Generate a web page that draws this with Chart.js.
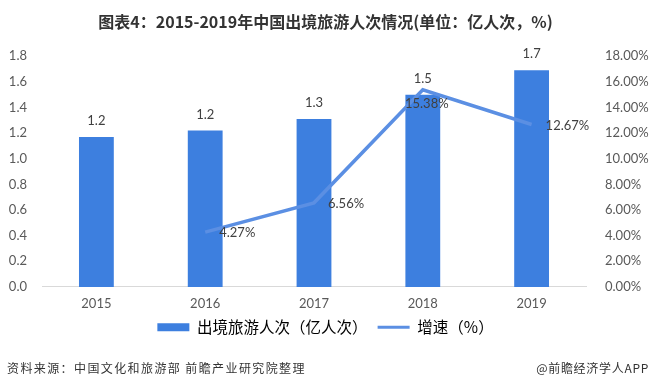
<!DOCTYPE html>
<html>
<head>
<meta charset="utf-8">
<script src="https://cdn.jsdelivr.net/npm/chart.js@4.4.0/dist/chart.umd.min.js"></script>
<style>
  html, body { margin: 0; padding: 0; background: #fff; }
  #wrap { width: 651px; height: 388px; position: relative; }
</style>
</head>
<body>
<div id="wrap"><canvas id="myChart"></canvas></div>
<script>
const years = ["2015", "2016", "2017", "2018", "2019"];
const travelers = [1.17, 1.22, 1.31, 1.5, 1.69];
const growth = [null, 4.27, 6.56, 15.38, 12.67];
const leftTicks = ["0.0", "0.2", "0.4", "0.6", "0.8", "1.0", "1.2", "1.4", "1.6", "1.8"];
const rightTicks = ["0.00%", "2.00%", "4.00%", "6.00%", "8.00%", "10.00%", "12.00%", "14.00%", "16.00%", "18.00%"];
// where each growth label sits relative to its point
const growthLabelPos = ["", "right", "right", "below", "right"];

const barColor = "#3d7fdf";
const lineColor = "#5b8fe3";
const font = "Lato, 'Noto Sans CJK SC', sans-serif";
const cjk = "'Noto Sans CJK SC', sans-serif";

const valueLabels = {
  id: "valueLabels",
  afterDatasetsDraw(chart) {
    const ctx = chart.ctx;
    ctx.save();
    ctx.font = "13px " + font;
    ctx.fillStyle = "#404040";
    ctx.textBaseline = "middle";
    ctx.textAlign = "center";
    chart.getDatasetMeta(0).data.forEach((bar, i) => {
      ctx.fillText(travelers[i].toFixed(1), bar.x, bar.y - 16);
    });
    chart.getDatasetMeta(1).data.forEach((pt, i) => {
      if (growth[i] == null) return;
      const txt = growth[i].toFixed(2) + "%";
      if (growthLabelPos[i] === "below") {
        ctx.textAlign = "center";
        ctx.fillText(txt, pt.x + 4, pt.y + 14);
      } else {
        ctx.textAlign = "left";
        ctx.fillText(txt, pt.x + 14, pt.y + 1);
      }
    });
    ctx.restore();
  },
};

const footer = {
  id: "footer",
  afterDraw(chart) {
    const ctx = chart.ctx;
    ctx.save();
    ctx.font = "12px " + cjk;
    ctx.fillStyle = "#333";
    ctx.textBaseline = "middle";
    ctx.textAlign = "left";
    ctx.letterSpacing = "1.4px";
    ctx.fillText("资料来源：中国文化和旅游部 前瞻产业研究院整理", 7, 368);
    ctx.textAlign = "right";
    ctx.letterSpacing = "0.7px";
    ctx.fillText("@前瞻经济学人APP", 649, 368);
    ctx.restore();
  },
};

new Chart("myChart", {
  data: {
    labels: years,
    datasets: [
      {
        type: "bar",
        label: "出境旅游人次（亿人次）",
        data: travelers,
        backgroundColor: barColor,
        barPercentage: 0.32,
        categoryPercentage: 1,
        yAxisID: "y",
        order: 2,
      },
      {
        type: "line",
        label: "增速（%）",
        data: growth,
        borderColor: lineColor,
        borderWidth: 3.5,
        pointRadius: 0,
        tension: 0,
        yAxisID: "y1",
        order: 1,
      },
    ],
  },
  options: {
    responsive: true,
    maintainAspectRatio: false,
    animation: false,
    layout: { padding: { left: 0, right: 0, top: 0, bottom: 43 } },
    plugins: {
      tooltip: { enabled: false },
      title: {
        display: true,
        text: "图表4：2015-2019年中国出境旅游人次情况(单位：亿人次，%)",
        color: "#333",
        font: { size: 16, weight: "bold", family: cjk },
        padding: { top: 12, bottom: 25 },
      },
      legend: {
        display: true,
        position: "bottom",
        labels: {
          usePointStyle: true,
          pointStyleWidth: 32,
          boxHeight: 8,
          color: "#595959",
          padding: 10,
          font: { size: 15.5, family: cjk },
          generateLabels: () => [
            { text: "出境旅游人次（亿人次）", fillStyle: barColor, strokeStyle: barColor, lineWidth: 0, pointStyle: "rect", datasetIndex: 0 },
            { text: "增速（%）", fillStyle: lineColor, strokeStyle: lineColor, lineWidth: 3, pointStyle: "line", datasetIndex: 1 },
          ],
        },
      },
    },
    scales: {
      x: {
        grid: { display: false, drawTicks: false },
        border: { color: "#d9d9d9", width: 1 },
        ticks: { color: "#595959", font: { size: 13, family: font }, padding: 9 },
        afterFit(scale) { scale.height -= 11; },
      },
      y: {
        position: "left",
        min: 0,
        max: 1.8,
        grid: { display: false, drawTicks: false },
        border: { display: false },
        ticks: {
          stepSize: 0.2,
          color: "#595959",
          font: { size: 13, family: font },
          padding: 15,
          callback: (value, index) => leftTicks[index],
        },
        afterFit(scale) { scale.width = 42; },
      },
      y1: {
        position: "right",
        min: 0,
        max: 18,
        grid: { display: false, drawTicks: false },
        border: { display: false },
        ticks: {
          stepSize: 2,
          color: "#595959",
          font: { size: 13, family: font },
          padding: 19,
          callback: (value, index) => rightTicks[index],
        },
        afterFit(scale) { scale.width = 65; },
      },
    },
  },
  plugins: [valueLabels, footer],
});
</script>
</body>
</html>
